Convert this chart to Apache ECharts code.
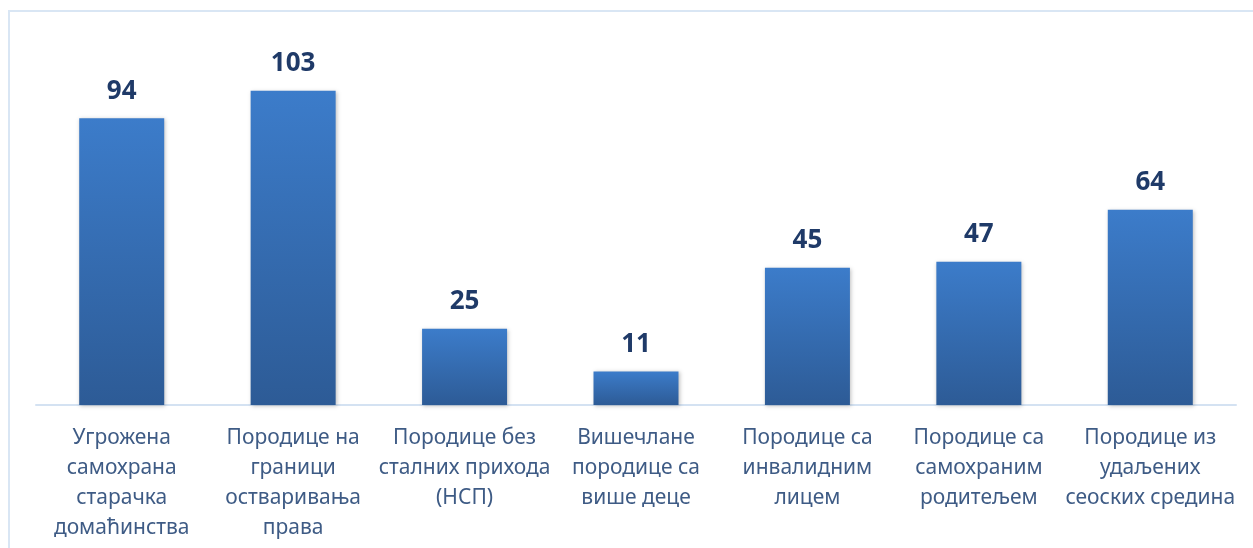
<!DOCTYPE html>
<html><head><meta charset="utf-8">
<script src="https://cdn.jsdelivr.net/npm/echarts@6/dist/echarts.min.js"></script>
<style>html,body{margin:0;padding:0;background:#fff}#c{width:1253px;height:548px}
#frame{position:absolute;left:8px;top:10px;width:1260px;height:560px;border:2px solid #D9E6F4;box-sizing:border-box;pointer-events:none}</style>
</head><body><div id="c"></div><div id="frame"></div>
<script>
const categories = [
  "Угрожена\nсамохрана\nстарачка\nдомаћинства",
  "Породице на\nграници\nостваривања\nправа",
  "Породице без\nсталних прихода\n(НСП)",
  "Вишечлане\nпородице са\nвише деце",
  "Породице са\nинвалидним\nлицем",
  "Породице са\nсамохраним\nродитељем",
  "Породице из\nудаљених\nсеоских средина"
];
const values = [94, 103, 25, 11, 45, 47, 64];

const chart = echarts.init(document.getElementById('c'));
chart.setOption({
  animation: false,
  grid: {left: 36, right: 17, top: 39, bottom: 143},
  xAxis: {
    type: 'category', data: categories,
    axisLine: {lineStyle: {color: '#D4E2F2', width: 2}},
    axisTick: {show: false},
    axisLabel: {interval: 0, margin: 18, color: '#3E5B85', fontFamily: 'Noto Sans', fontSize: 21, lineHeight: 30}
  },
  yAxis: {type: 'value', min: 0, max: 120, show: false, splitLine: {show: false}},
  series: [{
    type: 'bar', data: values, barWidth: 85,
    itemStyle: {
      color: new echarts.graphic.LinearGradient(0, 0, 0, 1, [
        {offset: 0, color: '#3C7CCA'}, {offset: 1, color: '#2D5B96'}
      ]),
      shadowColor: 'rgba(0,0,0,0.25)', shadowBlur: 4, shadowOffsetX: 1, shadowOffsetY: 1
    },
    label: {show: true, position: 'top', distance: 14, color: '#1F3A68', fontFamily: 'Noto Sans', fontWeight: 'bold', fontSize: 26}
  }]
});
</script></body></html>
